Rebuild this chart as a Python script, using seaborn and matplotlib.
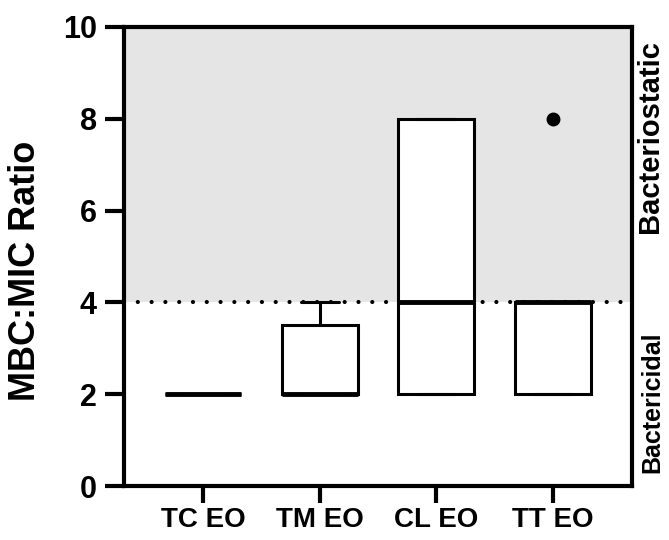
import numpy as np
import pandas as pd
import matplotlib
matplotlib.use("Agg")
import matplotlib.pyplot as plt
import seaborn as sns

# MBC:MIC ratios per essential oil (individual strains)
oils = ["TC EO", "TM EO", "CL EO", "TT EO"]
tc_ratio = [2, 2, 2, 2, 2, 2]
tm_ratio = [2, 2, 2, 2, 4, 4]
cl_ratio = [2, 2, 2, 4, 8, 8, 8]
tt_ratio = [2, 2, 2, 4, 4, 4, 4, 8]
threshold = 4
y_ticks = [0, 2, 4, 6, 8, 10]
zone_labels = ["Bacteriostatic", "Bactericidal"]

df = pd.concat(
    [
        pd.DataFrame({"oil": name, "ratio": vals})
        for name, vals in zip(oils, [tc_ratio, tm_ratio, cl_ratio, tt_ratio])
    ],
    ignore_index=True,
)

sns.set_style("ticks", {
    "axes.edgecolor": "black",
    "text.color": "black",
    "axes.labelcolor": "black",
    "xtick.color": "black",
    "ytick.color": "black",
})
plt.rcParams["font.family"] = ["Liberation Sans", "DejaVu Sans"]

fig = plt.figure(figsize=(6.69, 5.4), dpi=100)
ax = fig.add_axes([0.1853, 0.10, 0.7594, 0.85])

ax.axhspan(threshold, y_ticks[-1], color="#e5e5e5", zorder=0, lw=0)
ax.axhline(
    threshold, color="black", lw=3, ls=(0, (0.01, 3.3)),
    dash_capstyle="round", zorder=1,
)

sns.boxplot(
    data=df, x="oil", y="ratio", order=oils, ax=ax,
    width=0.65, color="white", linecolor="black", linewidth=2.2,
    fliersize=9, whis=1.5,
    medianprops=dict(linewidth=3.5),
    flierprops=dict(marker="o", markerfacecolor="black", markeredgecolor="black"),
    zorder=2,
)

ax.set_xlim(-0.677, 3.677)
ax.set_ylim(0, 10)
ax.set_yticks(y_ticks)
ax.set_xlabel("")
ax.set_ylabel("MBC:MIC Ratio", fontsize=26, fontweight="bold")
ax.yaxis.set_label_coords(-0.159, 0.468)

for side in ["left", "right", "top", "bottom"]:
    ax.spines[side].set_visible(True)
    ax.spines[side].set_linewidth(3)
    ax.spines[side].set_color("black")
    ax.spines[side].set_zorder(5)

ax.tick_params(axis="both", direction="out", width=3)
ax.tick_params(axis="y", labelsize=22, length=13.5, pad=6)
ax.tick_params(axis="x", labelsize=20, length=12, pad=3)
for lab in ax.get_xticklabels() + ax.get_yticklabels():
    lab.set_fontweight("bold")

fig.text(0.972, 0.748, zone_labels[0], rotation=90, fontsize=21,
         fontweight="bold", ha="center", va="center")
fig.text(0.975, 0.256, zone_labels[1], rotation=90, fontsize=18,
         fontweight="bold", ha="center", va="center")

fig.savefig("out.png", dpi=100)
